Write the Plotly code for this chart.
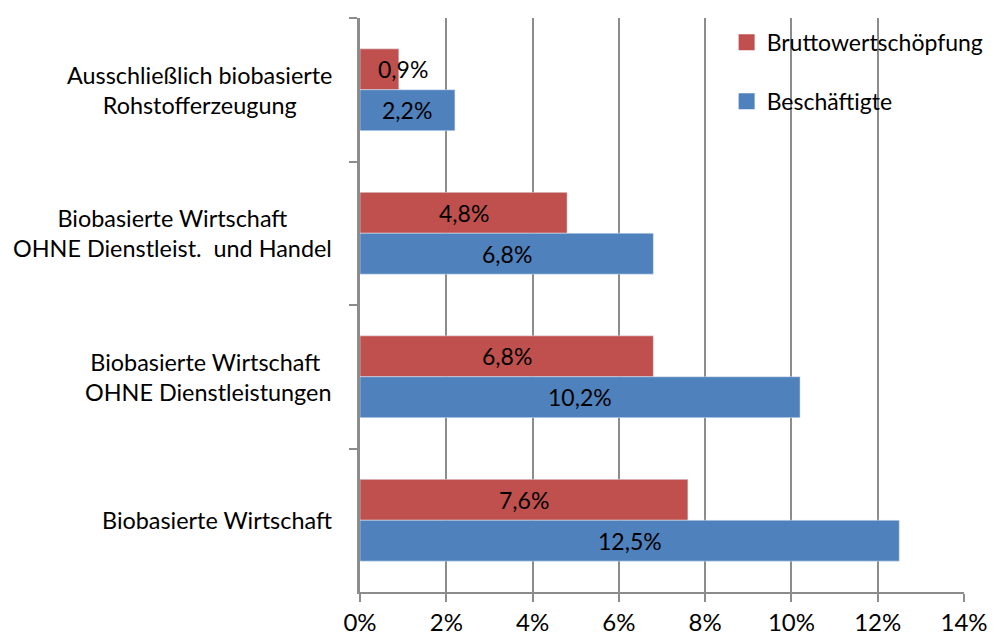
import plotly.graph_objects as go

# categories from top to bottom
categories = [
    "Ausschließlich biobasierte<br>Rohstofferzeugung",
    "Biobasierte Wirtschaft<br>OHNE Dienstleist.  und Handel",
    "Biobasierte Wirtschaft <br>OHNE Dienstleistungen",
    "Biobasierte Wirtschaft",
]
brutto = [0.9, 4.8, 6.8, 7.6]
beschaeftigte = [2.2, 6.8, 10.2, 12.5]
series_names = ["Bruttowertschöpfung", "Beschäftigte"]
x_ticks = [0, 2, 4, 6, 8, 10, 12, 14]

RED = "#C0504D"
BLUE = "#4F81BD"
GRID = "#8C8C8C"
FONT = "Lato"
FS = 24

cat_ids = [f"c{i}" for i in range(len(categories))]


def fmt(v):
    return f"{v:.1f}%".replace(".", ",")


fig = go.Figure()
fig.add_trace(go.Bar(y=cat_ids, x=brutto, name=series_names[0],
                     orientation="h", marker=dict(color=RED),
                     showlegend=False))
fig.add_trace(go.Bar(y=cat_ids, x=beschaeftigte, name=series_names[1],
                     orientation="h", marker=dict(color=BLUE),
                     showlegend=False))
# legend entries with bigger square swatches
for name, col, grp in zip(series_names, [RED, BLUE], ["a", "b"]):
    fig.add_trace(go.Scatter(x=[None], y=[None], mode="markers", name=name,
                             marker=dict(symbol="square", size=17, color=col),
                             legendgroup=grp))

annotations = []
# category labels, block right aligned to the axis, lines centred
for cid, label in zip(cat_ids, categories):
    annotations.append(dict(
        x=-0.043, xref="paper", y=cid, yref="y", text=label,
        xanchor="right", yanchor="middle", align="center",
        showarrow=False, font=dict(family=FONT, size=23.4, color="#000")))

# value labels inside bars
for cid, v in zip(cat_ids, brutto):
    annotations.append(dict(
        x=v / 2, y=cid, text=fmt(v), showarrow=False, yshift=20.5,
        xshift=24 if v < 1.5 else 0,
        font=dict(family=FONT, size=FS - 1, color="#000")))
for cid, v in zip(cat_ids, beschaeftigte):
    annotations.append(dict(
        x=v / 2, y=cid, text=fmt(v), showarrow=False, yshift=-20.5,
        font=dict(family=FONT, size=FS - 1, color="#000")))

# the page body adds an 8px offset, so the figure is 8px smaller
fig.update_layout(
    width=990, height=629,
    margin=dict(l=352, r=34, t=10, b=45, autoexpand=False),
    paper_bgcolor="white", plot_bgcolor="white",
    barmode="group", bargap=0.43, bargroupgap=0,
    font=dict(family=FONT, size=FS, color="#000"),
    showlegend=True,
    legend=dict(x=0.607, y=0.995, xanchor="left", yanchor="top",
                traceorder="grouped", tracegroupgap=26,
                itemsizing="trace",
                bgcolor="rgba(255,255,255,0)",
                font=dict(family=FONT, size=23, color="#000")),
    annotations=annotations,
)

fig.update_xaxes(
    range=[0, 14], tickvals=x_ticks, ticktext=[f"{t}%" for t in x_ticks],
    showgrid=True, gridcolor=GRID, gridwidth=2,
    showline=True, linecolor=GRID, linewidth=2,
    ticks="outside", ticklen=8, tickcolor=GRID, tickwidth=2,
    zeroline=False, tickfont=dict(family=FONT, size=FS, color="#000"),
)
fig.update_yaxes(
    categoryorder="array", categoryarray=cat_ids, autorange="reversed",
    showticklabels=False, showgrid=False, zeroline=False,
    showline=True, linecolor=GRID, linewidth=3,
    ticks="outside", tickson="boundaries", ticklen=8,
    tickcolor=GRID, tickwidth=2,
)

fig.write_html("out.html")
